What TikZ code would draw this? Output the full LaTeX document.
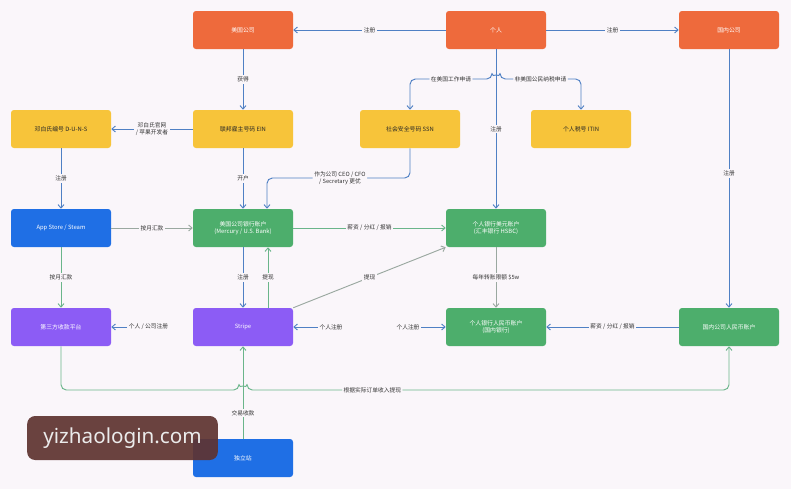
\documentclass[tikz,border=0pt]{standalone}
\usepackage{fontspec}
\setmainfont{Noto Sans CJK SC}
\newfontfamily\wmfont{Noto Sans}
\usetikzlibrary{arrows.meta,calc}
\definecolor{bgc}{HTML}{FAF6FA}
\definecolor{cor}{HTML}{EE6A3C}
\definecolor{cye}{HTML}{F7C43A}
\definecolor{cbl}{HTML}{1F6FE5}
\definecolor{cgn}{HTML}{4DAE6C}
\definecolor{cpu}{HTML}{8C5CF5}
\definecolor{lbl}{HTML}{4F80C4}
\definecolor{lgn}{HTML}{6AB58A}
\definecolor{lgy}{HTML}{9AA8A0}
\definecolor{wmc}{HTML}{5E3330}
\tikzset{
  box/.style={rounded corners=2.2pt, minimum width=75pt, minimum height=28.5pt, inner sep=1pt,
    text=white, align=center, font=\fontsize{4.4}{5.6}\selectfont},
  orb/.style={box, fill=cor},
  yeb/.style={box, fill=cye, text=black!85},
  blb/.style={box, fill=cbl},
  gnb/.style={box, fill=cgn},
  pub/.style={box, fill=cpu},
  conn/.style={line width=0.7pt, -{Straight Barb[length=2.6pt,width=4.5pt]}},
  bline/.style={conn, draw=lbl},
  gline/.style={conn, draw=lgn},
  yline/.style={conn, draw=lgy},
  elab/.style={fill=bgc, inner sep=1.2pt, text=black!80, align=center, font=\fontsize{4.3}{5.4}\selectfont},
}
\begin{document}
\begin{tikzpicture}[x=0.75pt,y=-0.75pt]
\fill[bgc] (0,0) rectangle (791,489);
\useasboundingbox (0,0) rectangle (791,489);
% nodes
\node[orb] (usco) at (243,30) {美国公司};
\node[orb] (person) at (496,30) {个人};
\node[orb] (cnco) at (729,30) {国内公司};
\node[yeb] (duns) at (61,129) {邓白氏编号 D-U-N-S};
\node[yeb] (ein) at (243,129) {联邦雇主号码 EIN};
\node[yeb] (ssn) at (410,129) {社会安全号码 SSN};
\node[yeb] (itin) at (581,129) {个人税号 ITIN};
\node[blb] (appst) at (61,228) {App Store / Steam};
\node[gnb] (usbank) at (243,228) {美国公司银行账户\\(Mercury / U.S. Bank)};
\node[gnb] (usd) at (496,228) {个人银行美元账户\\(汇丰银行 HSBC)};
\node[pub] (third) at (61,327) {第三方收款平台};
\node[pub] (stripe) at (243,327) {Stripe};
\node[gnb] (rmb) at (496,327) {个人银行人民币账户\\(国内银行)};
\node[gnb] (cnrmb) at (729,327) {国内公司人民币账户};
\node[blb] (indep) at (243,458) {独立站};
% bend points
\coordinate (b1) at (410,79);
\coordinate (b2) at (492,79);
\coordinate (b3) at (581,79);
\coordinate (s1) at (410,178);
\coordinate (s2) at (267,178);
\coordinate (g1) at (61,390);
\coordinate (g2) at (239,390);
\coordinate (g3) at (729,390);
% top row
\draw[bline] (person) -- node[elab]{注册} (usco);
\draw[bline] (person) -- node[elab]{注册} (cnco);
\draw[bline] (usco) -- node[elab]{获得} (ein);
\draw[bline] (ein) -- node[elab]{邓白氏官网\\/ 苹果开发者} (duns);
\draw[bline] (duns) -- node[elab]{注册} (appst);
\draw[bline] (ein) -- node[elab]{开户} (usbank);
\draw[bline] (person) -- node[elab]{注册} (usd);
\draw[bline] (cnco) -- node[elab,pos=0.48]{注册} (cnrmb);
\draw[line width=0.7pt, draw=lbl, {Straight Barb[length=2.6pt,width=4.5pt]}-{Straight Barb[length=2.6pt,width=4.5pt]}, rounded corners=4pt]
  (ssn.north) -- (b1) -- node[elab]{在美国工作申请} (b2) arc (180:360:4) -- node[elab]{非美国公民纳税申请} (b3) -- (itin.north);
\draw[bline, rounded corners=4pt] (ssn.south) -- (s1) -- node[elab,pos=0.49]{作为公司 CEO / CFO\\/ Secretary 更优} (s2) -- ($(usbank.north)+(24,0)$);
% middle
\draw[yline] (appst) -- node[elab]{按月汇款} (usbank);
\draw[gline] (usbank) -- node[elab]{薪资 / 分红 / 报销} (usd);
\draw[gline] (appst) -- node[elab]{按月汇款} (third);
\draw[bline] (usbank) -- node[elab]{注册} (stripe);
\draw[gline] ($(stripe.north)+(25,0)$) -- node[elab]{提现} ($(usbank.south)+(25,0)$);
\draw[yline] (stripe.north east) -- node[elab]{提现} (usd.south west);
\draw[yline] (usd) -- node[elab]{每年转账限额 \$5w} (rmb);
% registration arrows
\node[elab,anchor=west] (r1) at (127,327) {个人 / 公司注册};
\draw[bline] (r1) -- (third);
\node[elab] (r2) at (331,327) {个人注册};
\draw[bline] (r2) -- (stripe);
\node[elab] (r3) at (408,327) {个人注册};
\draw[bline] (r3) -- (rmb);
\draw[bline] (cnrmb) -- node[elab]{薪资 / 分红 / 报销} (rmb);
% bottom
\draw[gline, rounded corners=4pt] (third.south) -- (g1) -- (g2) arc (180:360:4) -- node[elab,pos=0.26]{根据实际订单收入提现} (g3) -- (cnrmb.south);
\draw[gline] (indep) -- node[elab,pos=0.28]{交易收款} (stripe);
% watermark
\node[fill=wmc, fill opacity=0.92, text opacity=1, rounded corners=6pt, minimum width=143pt, minimum height=33pt, text=white!92!black, font=\wmfont\fontsize{15.5}{18}\selectfont] (wm) at (122.5,438) {yizhaologin.com};
\end{tikzpicture}
\end{document}
